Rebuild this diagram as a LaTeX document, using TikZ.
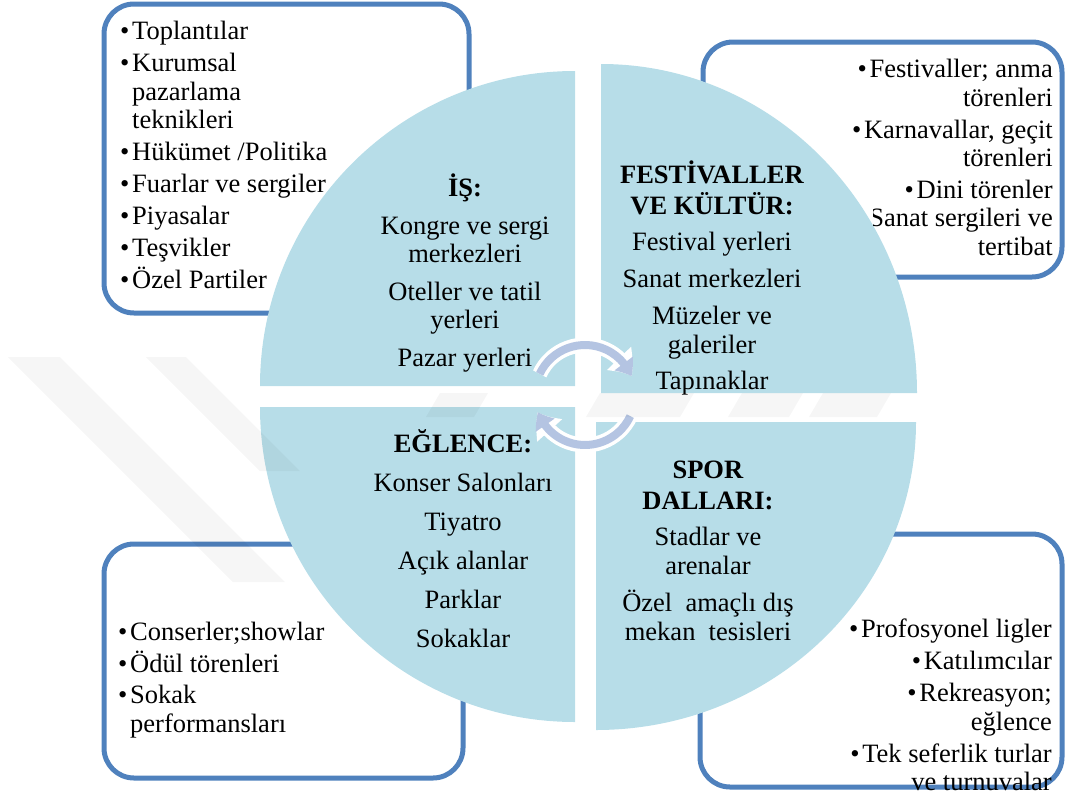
\documentclass[tikz,border=0pt]{standalone}
\usepackage{fontspec}
\setmainfont{Liberation Serif}
\usetikzlibrary{arrows.meta,bending}
\definecolor{boxblue}{RGB}{79,129,189}
\definecolor{piefill}{RGB}{183,221,232}
\definecolor{cyclearrow}{RGB}{180,196,226}
\newcommand\lstdot{\makebox[12pt][l]{•}}
\newcommand\lstind{\hspace*{12pt}}

\begin{document}
\begin{tikzpicture}[x=1pt,y=1pt,
  listbox/.style={draw=boxblue, line width=5pt, fill=white, rounded corners=30pt, inner sep=0pt},
  piece/.style={fill=piefill},
  txt/.style={inner sep=0pt, font=\fontsize{26.5}{28.5}\selectfont},
  cyclew/.style={white, line width=15pt, -{Triangle[bend,width=32pt,length=22pt]}},
  cyclec/.style={cyclearrow, line width=8pt, -{Triangle[bend,width=22pt,length=15pt]}},
  wmark/.style={fill=black, fill opacity=0.035}
]
\useasboundingbox (0,0) rectangle (1065,-798);

% outer list frames
\node[listbox, minimum width=365pt, minimum height=309pt] (frameA) at (286.5,-158.5) {};
\node[listbox, minimum width=359pt, minimum height=235pt] (frameB) at (882.5,-159.5) {};
\node[listbox, minimum width=359pt, minimum height=234pt] (frameC) at (283.5,-661) {};
\node[listbox, minimum width=362pt, minimum height=253pt] (frameD) at (881,-660.5) {};

% the four pie pieces
\fill[piece] (575,-386) -- (260,-386) arc[start angle=180,end angle=90,radius=315pt] -- cycle;
\fill[piece] (601,-393) -- (601,-64) arc[start angle=90,end angle=0,x radius=316pt,y radius=329pt] -- cycle;
\fill[piece] (575,-407) -- (575,-722) arc[start angle=270,end angle=180,radius=315pt] -- cycle;
\fill[piece] (596,-422) -- (916,-422) arc[start angle=0,end angle=-90,x radius=320pt,y radius=308pt] -- cycle;

% circular arrows in the middle
\coordinate (hub) at (585,-395);
\draw[cyclew] ([shift={(155:50pt)}]hub) arc[start angle=155,end angle=22,radius=50pt];
\draw[cyclec] ([shift={(155:50pt)}]hub) arc[start angle=155,end angle=22,radius=50pt];
\draw[cyclew] ([shift={(-25:50pt)}]hub) arc[start angle=-25,end angle=-160,radius=50pt];
\draw[cyclec] ([shift={(-25:50pt)}]hub) arc[start angle=-25,end angle=-160,radius=50pt];

% texts inside the pieces
\node[txt, anchor=north, align=center] (is) at (465,-174) {\textbf{İŞ:}\\[9pt]
  Kongre ve sergi\\ merkezleri\\[9pt] Oteller ve tatil\\ yerleri\\[9pt] Pazar yerleri};
\node[txt, anchor=north, align=center] (fest) at (712,-161) {\textbf{FESTİVALLER}\\[2pt]
  \textbf{VE KÜLTÜR:}\\[8pt] Festival yerleri\\[8pt] Sanat merkezleri\\[9pt] Müzeler ve\\ galeriler\\[8pt] Tapınaklar};
\node[txt, anchor=north, align=center] (egl) at (463,-429) {\textbf{EĞLENCE:}\\[10.5pt]
  Konser Salonları\\[10.5pt] Tiyatro\\[10.5pt] Açık alanlar\\[10.5pt] Parklar\\[10.5pt] Sokaklar};
\node[txt, anchor=north, align=center] (spor) at (708,-461) {\textbf{SPOR}\\[2pt]
  \textbf{DALLARI:}\\[8pt] Stadlar ve\\ arenalar\\[9pt] Özel\ \ amaçlı dış\\ mekan\ \ tesisleri};

% texts inside the frames
\node[txt, anchor=north west, align=left] (listA) at (120,-21) {\lstdot Toplantılar\\[3.5pt]
  \lstdot Kurumsal\\ \lstind pazarlama\\ \lstind teknikleri\\[3.5pt]
  \lstdot Hükümet /Politika\\[3.5pt] \lstdot Fuarlar ve sergiler\\[3.5pt]
  \lstdot Piyasalar\\[3.5pt] \lstdot Teşvikler\\[3.5pt] \lstdot Özel Partiler};
\node[txt, anchor=north east, align=right] (listB) at (1053,-59) {\lstdot Festivaller; anma\\ törenleri\\[3.5pt]
  \lstdot Karnavallar, geçit\\ törenleri\\[3.5pt] \lstdot Dini törenler};
\begin{scope}
  \clip (873,-200) rectangle (1065,-270);
  \node[txt, anchor=north east, align=right] (listBb) at (1053,-208) {Sanat sergileri ve\\ tertibat};
\end{scope}
\node[txt, anchor=north west, align=left] (listC) at (118,-622) {\lstdot Conserler;showlar\\[3pt]
  \lstdot Ödül törenleri\\[3pt] \lstdot Sokak\\ \lstind performansları};
\node[txt, anchor=north east, align=right] (listD) at (1052,-619) {\lstdot Profosyonel ligler\\[3.5pt]
  \lstdot Katılımcılar\\[3.5pt] \lstdot Rekreasyon;\\ eğlence\\[3.5pt]
  \lstdot Tek seferlik turlar\\ ve turnuvalar};

% faint background watermark bands
\fill[wmark] (8,-357) -- (60,-357) -- (285,-582) -- (233,-582) -- cycle;
\fill[wmark] (146,-357) -- (186,-357) -- (300,-471) -- (260,-471) -- cycle;
\begin{scope}[fill opacity=0.6]
\fill[wmark] (440,-393) -- (488,-393) -- (474,-417) -- (426,-417) -- cycle;
\fill[wmark] (600,-393) -- (694,-393) -- (680,-417) -- (586,-417) -- cycle;
\fill[wmark] (742,-393) -- (803,-393) -- (789,-417) -- (728,-417) -- cycle;
\fill[wmark] (823,-393) -- (891,-393) -- (877,-417) -- (809,-417) -- cycle;
\end{scope}
\end{tikzpicture}
\end{document}
